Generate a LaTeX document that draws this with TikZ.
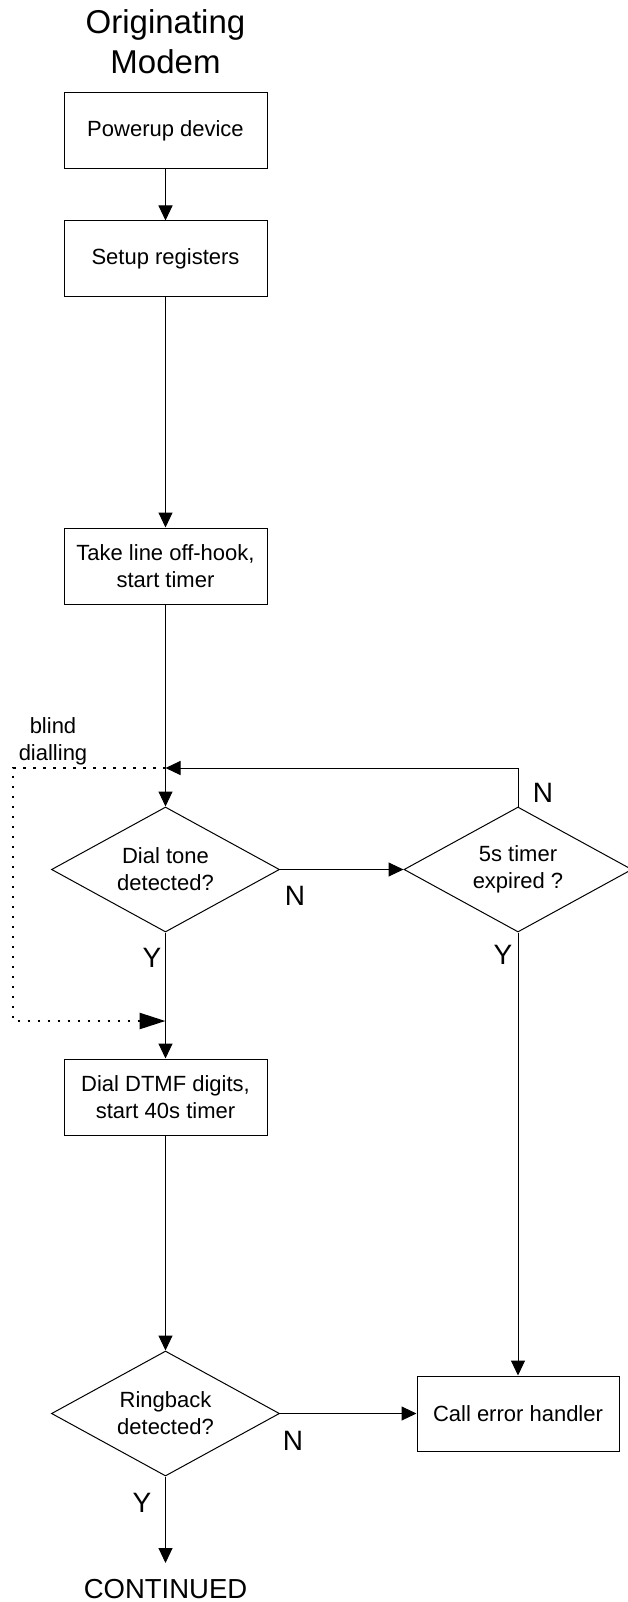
\documentclass[tikz,border=0pt]{standalone}
\usepackage{fontspec}
\setmainfont{Liberation Sans}
\usetikzlibrary{shapes.geometric,arrows.meta}

\tikzset{
  procbox/.style={draw, line width=1pt, minimum width=203pt, minimum height=76pt,
    inner sep=0pt, align=center, font=\fontsize{22}{27}\selectfont},
  decision/.style={draw, diamond, line width=1pt, aspect=1.82, minimum width=228pt,
    minimum height=125pt, inner sep=0pt, align=center, font=\fontsize{22}{27}\selectfont},
  flow/.style={line width=1pt, -{Triangle[length=15pt,width=14pt]}},
  dotflow/.style={line width=2.5pt, dash pattern=on 2.5pt off 7.5pt,
    -{Triangle[length=26pt,width=16pt]}},
  answer/.style={inner sep=0pt, font=\fontsize{28}{28}\selectfont},
  note/.style={inner sep=0pt, align=center, font=\fontsize{22}{27}\selectfont}
}

\begin{document}
\begin{tikzpicture}[x=1pt,y=-1pt]
  \useasboundingbox (0,0) rectangle (627,1602);

  % title
  \node[inner sep=0pt, align=center, font=\fontsize{33}{40}\selectfont]
    (title) at (165.5,42) {Originating\\Modem};

  % process steps and decisions
  \node[procbox] (power) at (165.5,131) {Powerup device};
  \node[procbox] (setup) at (165.5,259) {Setup registers};
  \node[procbox] (hook)  at (165.5,566) {Take line off-hook,\\start timer};
  \node[decision] (tone) at (165.5,869.5) {Dial tone\\detected?};
  \node[decision] (timer) at (518,869.5) {5s timer\\expired ?};
  \node[procbox] (dtmf)  at (165.5,1097) {Dial DTMF digits,\\start 40s timer};
  \node[decision] (ring) at (165.5,1413.5) {Ringback\\detected?};
  \node[procbox, minimum width=202pt, minimum height=75pt] (err) at (518,1413.5) {Call error handler};
  \node[inner sep=0pt, font=\fontsize{27.5}{28}\selectfont, anchor=north] (cont) at (165.5,1579) {CONTINUED};

  % junction points
  \coordinate (join)  at (165.5,768);
  \coordinate (dotTL) at (13,768);
  \coordinate (dotBL) at (13,1021);
  \coordinate (join2) at (165.5,1021);
  \coordinate (contTop) at (165.5,1563);

  % main flow
  \draw[flow] (power) -- (setup);
  \draw[flow] (setup) -- (hook);
  \draw[flow] (hook) -- (tone);
  \draw[flow] (tone.east) -- (timer.west);
  \draw[flow] (timer.north) |- (join);
  \draw[flow] (tone.south) -- (dtmf.north);
  \draw[flow] (dtmf.south) -- (ring.north);
  \draw[flow] (timer.south) -- (err.north);
  \draw[flow] (ring.east) -- (err.west);
  \draw[flow] (ring.south) -- (contTop);

  % blind dialling bypass
  \draw[dotflow] (join) -- (dotTL) -- (dotBL) -- (join2);
  \node[note] (blind) at (53,741) {blind\\dialling};

  % branch labels
  \node[answer] (toneN)  at (295,896) {N};
  \node[answer] (toneY)  at (152,958) {Y};
  \node[answer] (timerN) at (543,793) {N};
  \node[answer] (timerY) at (503,955) {Y};
  \node[answer] (ringN)  at (293,1441) {N};
  \node[answer] (ringY)  at (142,1503) {Y};
\end{tikzpicture}
\end{document}
